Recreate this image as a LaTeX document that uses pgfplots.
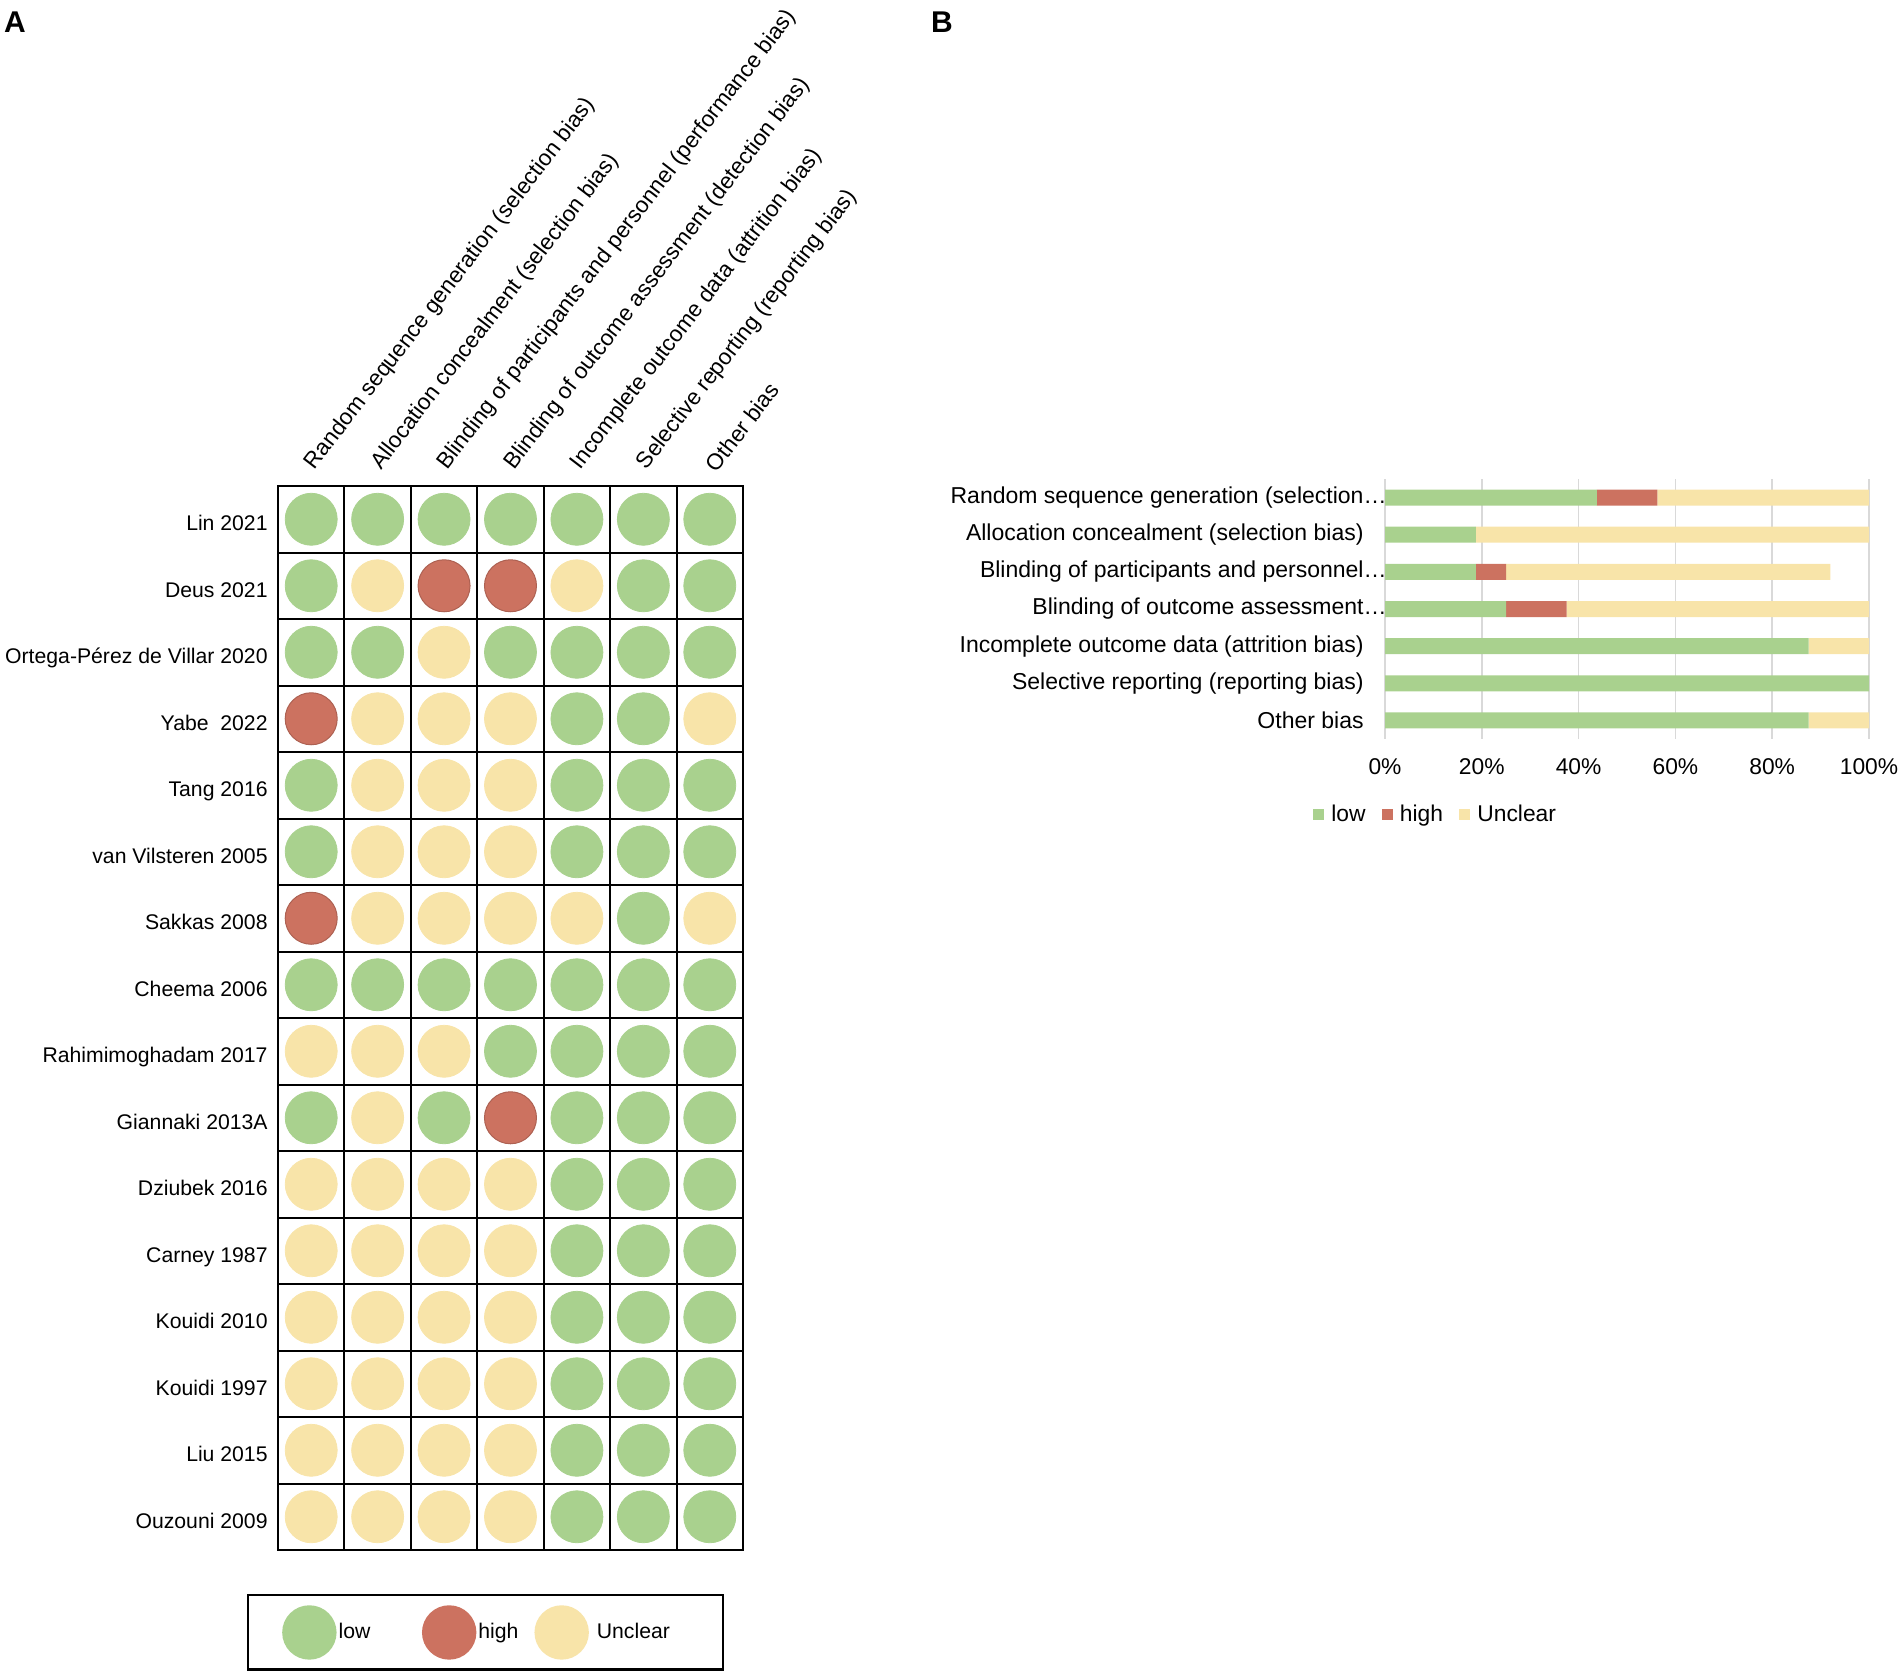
\documentclass[border=0pt]{standalone}
\usepackage{pgfplots}
\pgfplotsset{compat=1.18}
\usepackage{pgfplotstable}
\usepackage{fontspec}
\setmainfont{Liberation Sans}

\definecolor{lowc}{HTML}{A9D18E}
\definecolor{highc}{HTML}{CC7260}
\definecolor{uncc}{HTML}{F8E4A9}

% panel B: share of studies per judgement (%)
\pgfplotstableread{
cat low high unclear
0 43.75 12.5 43.75
1 18.75 0 81.25
2 18.75 6.25 67
3 25 12.5 62.5
4 87.5 0 12.5
5 100 0 0
6 87.5 0 12.5
}\tabB

\begin{document}
\begin{tikzpicture}
\useasboundingbox (0,0) rectangle (951.5pt,-837.5pt);
\node[font=\fontsize{15}{18}\selectfont\bfseries] at (7.5pt,-11pt) {A};
\node[font=\fontsize{15}{18}\selectfont\bfseries] at (471pt,-11pt) {B};

% ---- panel A: traffic-light grid
\begin{axis}[
  at={(139pt,-775pt)}, anchor=south west,
  width=232.5pt, height=532pt, scale only axis,
  xmin=0.5, xmax=7.5, ymin=0.5, ymax=16.5, y dir=reverse,
  clip=false,
  axis line style={line width=1.2pt},
  xtick={1,...,7}, ytick={1,...,16},
  minor xtick={1.5,2.5,...,6.5}, minor ytick={1.5,2.5,...,15.5},
  xminorgrids, yminorgrids,
  minor grid style={black, line width=1pt},
  major tick length=0pt, minor tick length=0pt,
  xticklabel pos=right,
  xticklabels={Random sequence generation (selection bias),
    Allocation concealment (selection bias),
    Blinding of participants and personnel (performance bias),
    Blinding of outcome assessment (detection bias),
    Incomplete outcome data (attrition bias),
    Selective reporting (reporting bias),
    Other bias},
  xticklabel style={rotate=52.5, anchor=south west, inner sep=0pt,
    xshift=7pt, yshift=0.7pt, font=\fontsize{11.3}{14}\selectfont},
  yticklabels={Lin 2021, Deus 2021, Ortega-Pérez de Villar 2020, Yabe\ \ 2022,
    Tang 2016, van Vilsteren 2005, Sakkas 2008, Cheema 2006,
    Rahimimoghadam 2017, Giannaki 2013A, Dziubek 2016, Carney 1987,
    Kouidi 2010, Kouidi 1997, Liu 2015, Ouzouni 2009},
  yticklabel style={anchor=base east, inner sep=0pt, xshift=-5pt, yshift=-5.8pt,
    font=\fontsize{10.6}{12}\selectfont},
  legend image code/.code={\fill[#1] (13pt,0pt) circle[radius=13pt];},
  legend columns=3, legend cell align=left,
  legend style={at={(axis description cs:-0.0667,-0.0414)}, anchor=north west,
    draw=black, line width=1.2pt, inner xsep=17pt, inner ysep=5pt,
    font=\fontsize{10.6}{12}\selectfont,
    nodes={inner sep=1pt},
    /tikz/column 2/.style={column sep=24.8pt},
    /tikz/column 4/.style={column sep=7pt}},
]
\addplot[only marks, mark=*, mark size=13pt, color=lowc,
  mark options={draw=none, fill=lowc}] coordinates {
  (1,1)(2,1)(3,1)(4,1)(5,1)(6,1)(7,1)
  (1,2)(6,2)(7,2)
  (1,3)(2,3)(4,3)(5,3)(6,3)(7,3)
  (5,4)(6,4)
  (1,5)(5,5)(6,5)(7,5)
  (1,6)(5,6)(6,6)(7,6)
  (6,7)
  (1,8)(2,8)(3,8)(4,8)(5,8)(6,8)(7,8)
  (4,9)(5,9)(6,9)(7,9)
  (1,10)(3,10)(5,10)(6,10)(7,10)
  (5,11)(6,11)(7,11)
  (5,12)(6,12)(7,12)
  (5,13)(6,13)(7,13)
  (5,14)(6,14)(7,14)
  (5,15)(6,15)(7,15)
  (5,16)(6,16)(7,16)
};
\addlegendentry{low}
\addplot[only marks, mark=*, mark size=13pt, color=highc,
  mark options={draw=highc!85!black, line width=0.5pt, fill=highc}] coordinates {
  (3,2)(4,2)(1,4)(1,7)(4,10)
};
\addlegendentry{high}
\addplot[only marks, mark=*, mark size=13pt, color=uncc,
  mark options={draw=none, fill=uncc}] coordinates {
  (2,2)(5,2)
  (3,3)
  (2,4)(3,4)(4,4)(7,4)
  (2,5)(3,5)(4,5)
  (2,6)(3,6)(4,6)
  (2,7)(3,7)(4,7)(5,7)(7,7)
  (1,9)(2,9)(3,9)
  (2,10)
  (1,11)(2,11)(3,11)(4,11)
  (1,12)(2,12)(3,12)(4,12)
  (1,13)(2,13)(3,13)(4,13)
  (1,14)(2,14)(3,14)(4,14)
  (1,15)(2,15)(3,15)(4,15)
  (1,16)(2,16)(3,16)(4,16)
};
\addlegendentry{\hspace{3pt}Unclear\hspace{8.5pt}\mbox{}}
\end{axis}

% ---- panel B: summary bars
\begin{axis}[
  at={(692.5pt,-369.5pt)}, anchor=south west,
  width=242pt, height=130pt, scale only axis,
  xbar stacked, bar width=8pt,
  xmin=0, xmax=100, ymin=-0.5, ymax=6.5, y dir=reverse,
  xtick={0,20,...,100}, xticklabels={0\%,20\%,40\%,60\%,80\%,100\%},
  ytick={0,...,6},
  yticklabels={Random sequence generation (selection\rlap{…},
    Allocation concealment (selection bias),
    Blinding of participants and personnel\rlap{…},
    Blinding of outcome assessment\rlap{…},
    Incomplete outcome data (attrition bias),
    Selective reporting (reporting bias),
    Other bias},
  xmajorgrids, grid style={draw=black!15, line width=0.8pt},
  axis line style={draw=none}, major tick length=0pt,
  xticklabel style={anchor=north, inner sep=0pt, yshift=-9.5pt,
    font=\fontsize{11.4}{13}\selectfont},
  yticklabel style={anchor=east, inner sep=0pt, xshift=-10.5pt,
    font=\fontsize{11.5}{13}\selectfont},
  legend image code/.code={\fill[#1] (0pt,-2.75pt) rectangle (5.5pt,2.75pt);},
  legend columns=3,
  legend style={at={(axis description cs:-0.1498,-0.29)}, anchor=west,
    draw=none, inner sep=0pt, font=\fontsize{11.4}{13}\selectfont,
    nodes={inner sep=0pt},
    /tikz/every odd column/.append style={column sep=3.7pt},
    /tikz/every even column/.append style={column sep=8pt}},
]
\addplot[fill=lowc, draw=none] table[x=low, y=cat] {\tabB};
\addlegendentry{low}
\addplot[fill=highc, draw=none] table[x=high, y=cat] {\tabB};
\addlegendentry{high}
\addplot[fill=uncc, draw=none] table[x=unclear, y=cat] {\tabB};
\addlegendentry{Unclear}
\end{axis}
\end{tikzpicture}
\end{document}
